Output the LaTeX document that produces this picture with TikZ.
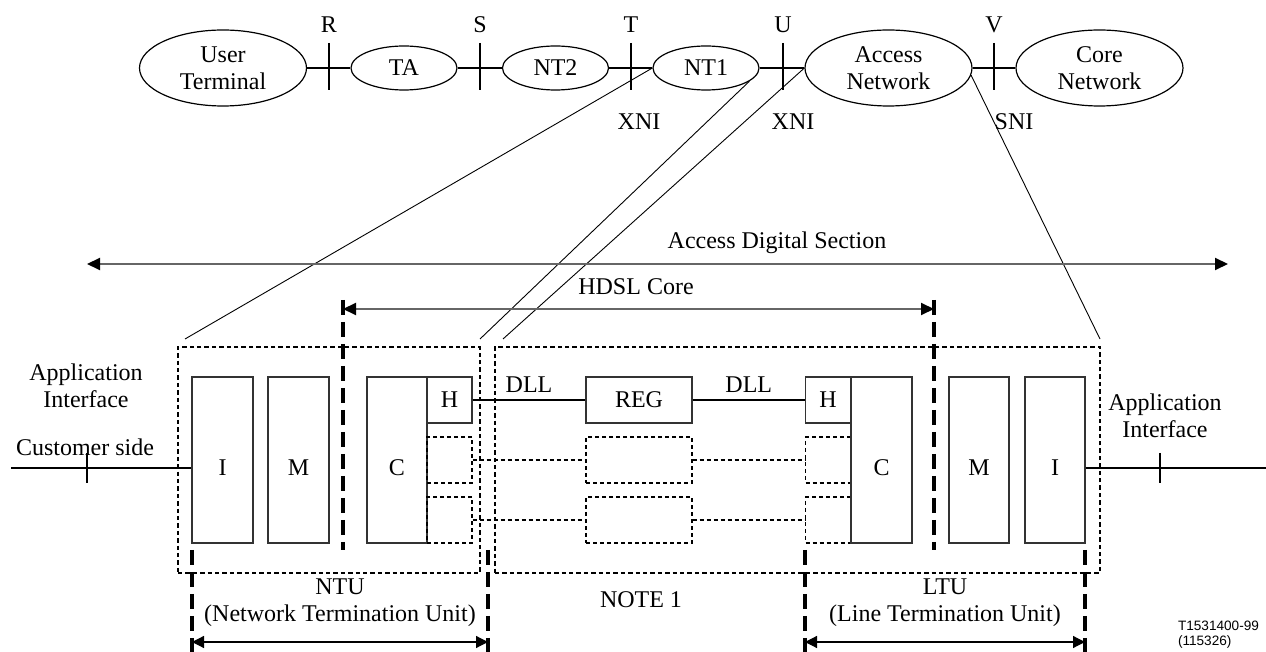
\documentclass[tikz,border=0pt]{standalone}
\usepackage{fontspec}
\setmainfont{Liberation Serif}
\newfontfamily\figfont{Liberation Sans}
\usetikzlibrary{arrows.meta, shapes.geometric}

\begin{document}
\begin{tikzpicture}[x=0.5pt, y=-0.5pt, align=center, font=\fontsize{12}{13.5}\selectfont,
  bigunit/.style={ellipse, draw, line width=0.6pt, inner sep=0pt, minimum width=83.5pt, minimum height=38pt},
  smallunit/.style={ellipse, draw, line width=0.6pt, inner sep=0pt, minimum width=53pt, minimum height=22pt},
  busline/.style={line width=1pt},
  diag/.style={line width=0.45pt},
  blockbox/.style={draw=black!80, line width=0.6pt, inner sep=0pt, minimum width=30.5pt, minimum height=83pt},
  letter/.style={label={[yshift=-4pt]center:#1}},
  hblock/.style={draw=black!80, line width=0.6pt, inner sep=0pt, minimum width=22.5pt, minimum height=23pt},
  hspare/.style={hblock, draw=black, line width=0.7pt, dash pattern=on 2pt off 1.5pt},
  regblock/.style={hblock, minimum width=53pt},
  regspare/.style={hspare, minimum width=53pt},
  spareline/.style={line width=0.7pt, dash pattern=on 2pt off 1.5pt},
  unitframe/.style={draw, line width=0.7pt, dash pattern=on 2.2pt off 1.5pt, inner sep=0pt, minimum height=113pt},
  coreline/.style={line width=2pt, dash pattern=on 7.5pt off 3.5pt},
  spanarrow/.style={line width=1pt, draw=black!60, {Triangle[length=6.5pt,width=6pt,color=black]}-{Triangle[length=6.5pt,width=6pt,color=black]}},
  unitarrow/.style={line width=0.6pt, {Triangle[length=6pt,width=6pt]}-{Triangle[length=6pt,width=6pt]}}]

\useasboundingbox (0,0) rectangle (1266,652);

\path (223,68) node[bigunit] (ut) {User\\Terminal}
      (404,68) node[smallunit] (ta) {TA}
      (555.5,68) node[smallunit] (nt2) {NT2}
      (706,68) node[smallunit] (nt1) {NT1}
      (888.5,68) node[bigunit] (an) {Access\\Network}
      (1099.5,68) node[bigunit] (cn) {Core\\Network};

\draw[busline] (ut) to (ta);
\draw[busline] (ta) to (nt2);
\draw[busline] (nt2) to (nt1);
\draw[busline] (nt1) to (an);
\draw[busline] (an) to (cn);

\path (329,25) node (ptr) {R}
      (480,25) node (pts) {S}
      (631,25) node (ptt) {T}
      (783,25) node (ptu) {U}
      (994,25) node (ptv) {V};
\draw[busline] (329,43) -- (329,90);
\draw[busline] (480,43) -- (480,90);
\draw[busline] (631,43) -- (631,90);
\draw[busline] (783,43) -- (783,90);
\draw[busline] (994,43) -- (994,90);

\path (639,122) node (xni1) {XNI}
      (793,122) node (xni2) {XNI}
      (1014,122) node (sni) {SNI};

\coordinate (ntul) at (185,339);
\coordinate (ntur) at (480,339);
\coordinate (acl) at (503,339);
\coordinate (acr) at (1100,339);
\draw[diag] (nt1.west) to (ntul);
\draw[diag] (nt1.-17) to (ntur);
\draw[diag] (an.west) to (acl);
\draw[diag] (an.-5) to (acr);

\node at (777,243) (adstext) {Access Digital Section};
\coordinate (adsl) at (87,264);
\coordinate (adsr) at (1228,264);
\draw[spanarrow] (adsl) to (adsr);

\node at (636,287) (hdsltext) {HDSL Core};
\coordinate (hdsll) at (343,309);
\coordinate (hdslr) at (934,309);
\draw[coreline] (343,300) -- (343,550);
\draw[coreline] (934,300) -- (934,550);
\draw[spanarrow] (hdsll) to (hdslr);

\node[unitframe, minimum width=151pt] (ntu) at (329,460) {};
\node[unitframe, minimum width=302.5pt] (acc) at (797.5,460) {};

\path (222.5,460) node[blockbox, letter=I] (ni) {}
      (298.5,460) node[blockbox, letter=M] (nm) {}
      (397,460) node[blockbox, minimum width=30pt, letter=C] (nc) {}
      (449.5,400) node[hblock] (nh) {H}
      (449.5,460) node[hspare] (nd1) {}
      (449.5,520) node[hspare] (nd2) {};

\path (639,400) node[regblock] (reg) {REG}
      (639,460) node[regspare] (rd1) {}
      (639,520) node[regspare] (rd2) {};

\path (828,400) node[hblock] (lh) {H}
      (828,460) node[hspare] (ld1) {}
      (828,520) node[hspare] (ld2) {}
      (881.5,460) node[blockbox, letter=C] (lc) {}
      (979,460) node[blockbox, minimum width=30pt, letter=M] (lm) {}
      (1055,460) node[blockbox, minimum width=30pt, letter=I] (li) {};

\draw[line width=0.8pt] (nh) to node[above] {DLL} (reg);
\draw[line width=0.8pt] (reg) to node[above] {DLL} (lh);
\draw[spareline] (nd1) to (rd1);
\draw[spareline] (rd1) to (ld1);
\draw[spareline] (nd2) to (rd2);
\draw[spareline] (rd2) to (ld2);

\node at (86,386) (appl) {Application\\Interface};
\node at (85,447) (custtext) {Customer side};
\coordinate (cust) at (11,468);
\draw[busline] (cust) to (ni.west |- cust);
\draw[busline] (87,453) -- (87,483);

\node at (1165,416) (appr) {Application\\Interface};
\coordinate (netside) at (1266,468);
\draw[busline] (li.east |- netside) to (netside);
\draw[busline] (1160,453) -- (1160,483);

\draw[coreline] (192,550) -- (192,652);
\draw[coreline] (488,550) -- (488,652);
\draw[coreline] (805,550) -- (805,652);
\draw[coreline] (1085,550) -- (1085,652);
\coordinate (ntua) at (192,642);
\coordinate (ntub) at (488,642);
\coordinate (ltua) at (805,642);
\coordinate (ltub) at (1085,642);
\draw[unitarrow] (ntua) to (ntub);
\draw[unitarrow] (ltua) to (ltub);

\node at (340,603) (ntutext) {NTU\\(Network Termination Unit)};
\node at (641,600) (notetext) {NOTE 1};
\node at (945,603) (ltutext) {LTU\\(Line Termination Unit)};

\node[anchor=east, align=left, font=\figfont\fontsize{6.8}{7.5}\selectfont] at (1266,635) (figno) {T1531400-99\\(115326)};

\end{tikzpicture}
\end{document}
